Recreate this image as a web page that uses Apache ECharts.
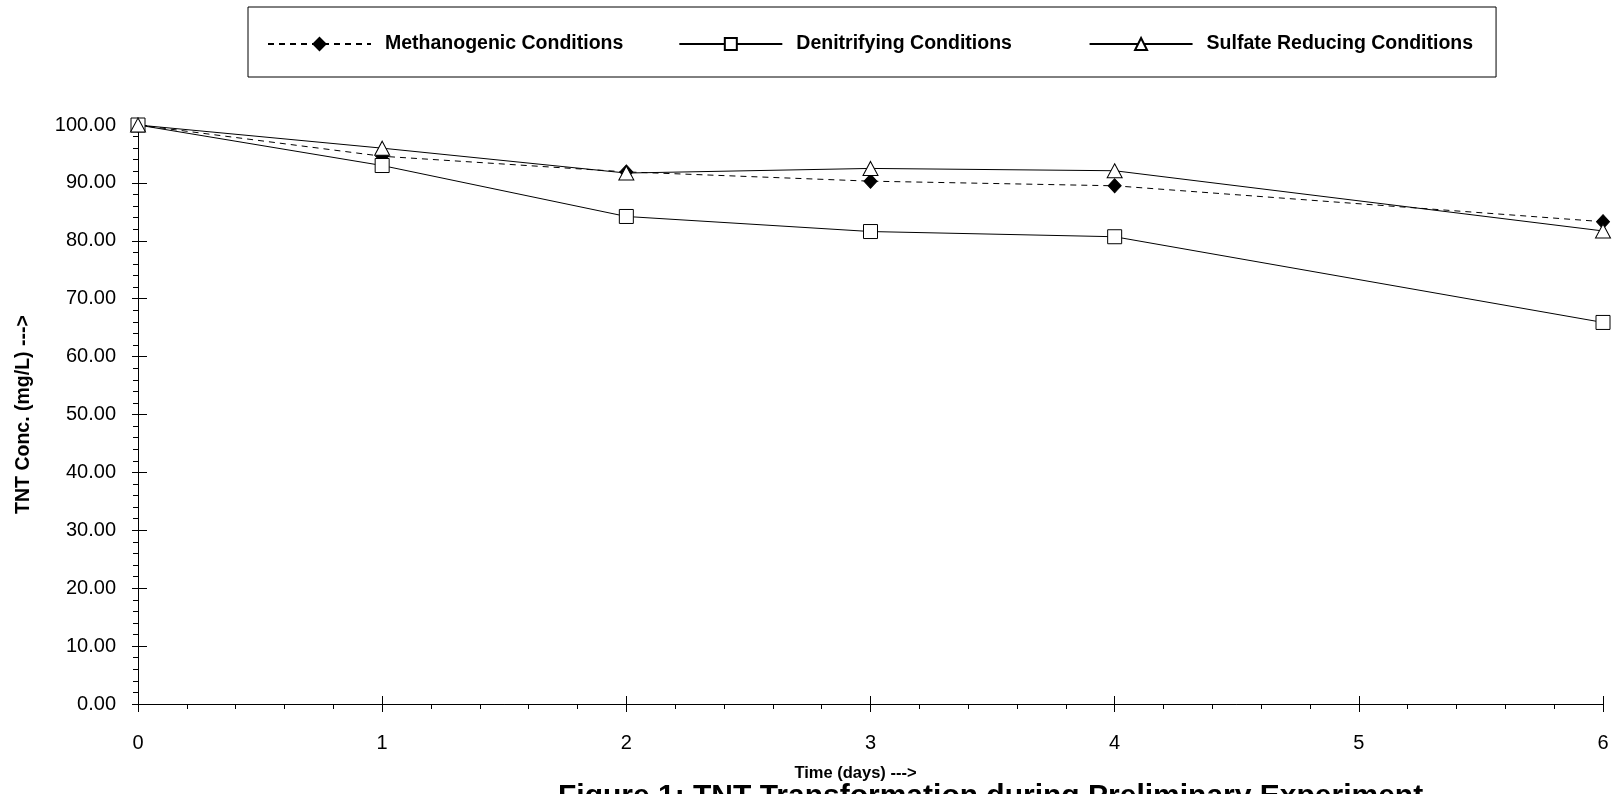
<!DOCTYPE html>
<html>
<head>
<meta charset="utf-8">
<script src="https://cdn.jsdelivr.net/npm/echarts@6/dist/echarts.min.js"></script>
<style>
html,body{margin:0;padding:0;background:#fff;}
#chart{width:1621px;height:794px;}
</style>
</head>
<body>
<div id="chart"></div>
<script>
// ---- data ----
const days = [0, 1, 2, 3, 4, 6];
const methanogenic = [100, 94.6, 91.9, 90.3, 89.5, 83.3];
const denitrifying = [100, 93.0, 84.2, 81.6, 80.7, 65.9];
const sulfateReducing = [100, 96.0, 91.7, 92.5, 92.1, 81.7];
const seriesNames = ['Methanogenic Conditions', 'Denitrifying Conditions', 'Sulfate Reducing Conditions'];
const xAxisTitle = 'Time (days) --->';
const yAxisTitle = 'TNT Conc. (mg/L) --->';
const caption = 'Figure 1: TNT Transformation during Preliminary Experiment';

const FONT = "'Liberation Sans', Arial, Helvetica, sans-serif";
const pairs = arr => days.map((d, i) => [d, arr[i]]);

const chart = echarts.init(document.getElementById('chart'), null, {renderer: 'canvas'});

const xBase = {type: 'value', min: 0, max: 6, interval: 1, position: 'bottom', splitLine: {show: false}};
const yBase = {type: 'value', min: 0, max: 100, interval: 10, position: 'left', splitLine: {show: false}};

chart.setOption({
  animation: false,
  backgroundColor: '#fff',
  title: {
    text: caption, left: 558, top: 782, padding: 0,
    textStyle: {fontFamily: FONT, fontSize: 30, fontWeight: 'bold', color: '#000'}
  },
  legend: {
    data: seriesNames,
    left: 248, top: 7,
    orient: 'horizontal',
    itemGap: 55, itemWidth: 103, itemHeight: 15,
    padding: [27, 23, 23, 19],
    borderColor: '#000', borderWidth: 1,
    formatter: name => name === seriesNames[1] ? '{t|' + name + '}{g|    }' : '{t|' + name + '}',
    textStyle: {
      fontFamily: FONT, fontSize: 19.5, fontWeight: 'bold', color: '#000', padding: [0, 0, 0, 9],
      rich: {
        t: {fontFamily: FONT, fontSize: 19.5, fontWeight: 'bold', color: '#000'},
        g: {fontFamily: FONT, fontSize: 19.5, fontWeight: 'bold'}
      }
    }
  },
  grid: {left: 138, right: 18, top: 125, bottom: 90, containLabel: false, outerBoundsMode: 'none'},
  xAxis: [
    Object.assign({}, xBase, {
      axisLine: {show: true, onZero: false, lineStyle: {color: '#000', width: 1}},
      axisTick: {show: true, length: 8, lineStyle: {color: '#000', width: 1}},
      minorTick: {show: true, splitNumber: 5, length: 5, lineStyle: {color: '#000', width: 1}},
      axisLabel: {margin: 29, fontFamily: FONT, fontSize: 20, color: '#000'},
      name: xAxisTitle, nameLocation: 'middle', nameGap: 61,
      nameTextStyle: {fontFamily: FONT, fontSize: 16.5, fontWeight: 'bold', color: '#000', padding: [0, 30, 0, 0]}
    }),
    Object.assign({}, xBase, {
      axisLine: {show: false, onZero: false},
      axisTick: {show: true, inside: true, length: 8, lineStyle: {color: '#000', width: 1}},
      axisLabel: {show: false}
    })
  ],
  yAxis: [
    Object.assign({}, yBase, {
      axisLine: {show: true, onZero: false, lineStyle: {color: '#000', width: 1}},
      axisTick: {show: true, length: 6, lineStyle: {color: '#000', width: 1}},
      minorTick: {show: true, splitNumber: 5, length: 5, lineStyle: {color: '#000', width: 1}},
      axisLabel: {margin: 22, fontFamily: FONT, fontSize: 20, color: '#000', formatter: v => v.toFixed(2)},
      name: yAxisTitle, nameLocation: 'middle', nameGap: 104, nameRotate: 90,
      nameTextStyle: {fontFamily: FONT, fontSize: 19.5, fontWeight: 'bold', color: '#000'}
    }),
    Object.assign({}, yBase, {
      axisLine: {show: false, onZero: false},
      axisTick: {show: true, inside: true, length: 9, lineStyle: {color: '#000', width: 1}},
      axisLabel: {show: false}
    })
  ],
  series: [
    {
      name: seriesNames[0], type: 'line', data: pairs(methanogenic),
      symbol: 'diamond', symbolSize: [13, 14],
      itemStyle: {color: '#000', borderColor: '#000', borderWidth: 1},
      lineStyle: {color: '#000', width: 1, type: [6, 5]}
    },
    {
      name: seriesNames[1], type: 'line', data: pairs(denitrifying),
      symbol: 'rect', symbolSize: 14,
      itemStyle: {color: '#fff', borderColor: '#000', borderWidth: 1},
      lineStyle: {color: '#000', width: 1}
    },
    {
      name: seriesNames[2], type: 'line', data: pairs(sulfateReducing),
      symbol: 'triangle', symbolSize: [15, 14],
      itemStyle: {color: '#fff', borderColor: '#000', borderWidth: 1},
      lineStyle: {color: '#000', width: 1}
    }
  ]
});
</script>
</body>
</html>
